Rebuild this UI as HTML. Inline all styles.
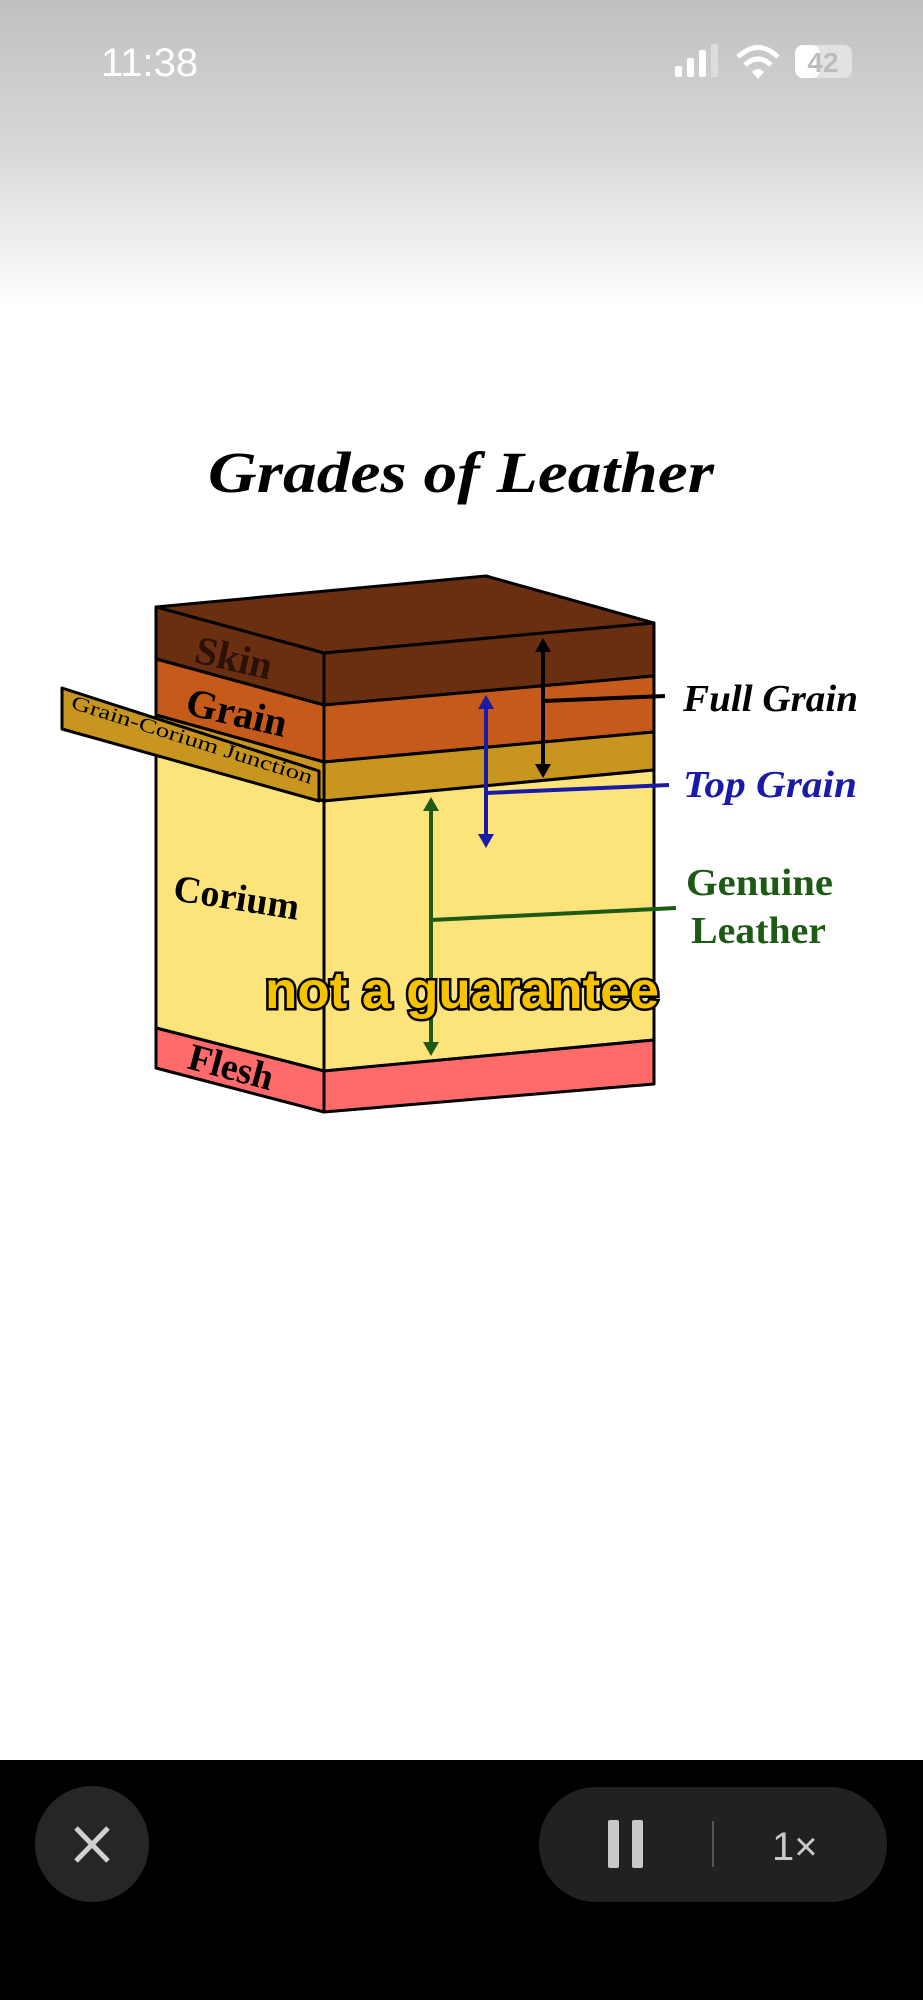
<!DOCTYPE html>
<html><head><meta charset="utf-8"><style>
html,body{margin:0;padding:0;width:923px;height:2000px;overflow:hidden;background:#fff}
</style></head><body>
<svg width="923" height="2000" viewBox="0 0 923 2000" xmlns="http://www.w3.org/2000/svg">
<defs><linearGradient id="g" x1="0" y1="0" x2="0" y2="1">
<stop offset="0" stop-color="#c0c0c0"/><stop offset="0.45" stop-color="#d6d6d6"/><stop offset="1" stop-color="#ffffff"/></linearGradient></defs>
<rect x="0" y="0" width="923" height="310" fill="url(#g)"/>
<text x="101" y="76" font-family="Liberation Sans, sans-serif" font-size="40" fill="#fff">11:38</text>
<rect x="675" y="66" width="7" height="11" rx="2" fill="#fff"/>
<rect x="687" y="58" width="7" height="19" rx="2" fill="#fff"/>
<rect x="699" y="50" width="7" height="27" rx="2" fill="#fff"/>
<rect x="711" y="44" width="7" height="33" rx="2" fill="#ddd"/>
<path d="M738 57 Q758 38 778 57" stroke="#fff" stroke-width="5" fill="none"/>
<path d="M745 65 Q758 53 771 65" stroke="#fff" stroke-width="5" fill="none"/>
<path d="M752 72 L758 79 L764 72 Q758 66 752 72Z" fill="#fff"/>
<rect x="795" y="45" width="57" height="33" rx="8" fill="#e2e2e2"/>
<rect x="795" y="45" width="25" height="33" rx="8" fill="#fff"/>
<text x="823" y="72" text-anchor="middle" font-family="Liberation Sans, sans-serif" font-size="28" font-weight="bold" fill="#bdbdbd">42</text>

<text x="208" y="492" textLength="506" lengthAdjust="spacingAndGlyphs" font-family="Liberation Serif, serif" font-size="58" font-weight="bold" font-style="italic" fill="#000">Grades of Leather</text>

<g stroke="#000" stroke-width="3" stroke-linejoin="round">
<polygon points="156,607 486,576 654,623 324,653" fill="#6a2e10"/>
<polygon points="156,607 324,653 324,705 156,659" fill="#6a2e10"/>
<polygon points="156,659 324,705 324,762 156,715" fill="#c55a1a"/>
<polygon points="156,715 324,762 324,801 156,752" fill="#c8951f"/>
<polygon points="156,752 324,801 324,1071 156,1028" fill="#fde47a"/>
<polygon points="156,1028 324,1071 324,1112 156,1068" fill="#ff6b6b"/>
<polygon points="324,653 654,623 654,676 324,705" fill="#6a2e10"/>
<polygon points="324,705 654,676 654,732 324,762" fill="#c55a1a"/>
<polygon points="324,762 654,732 654,770 324,801" fill="#c8951f"/>
<polygon points="324,801 654,770 654,1040 324,1071" fill="#fde47a"/>
<polygon points="324,1071 654,1040 654,1084 324,1112" fill="#ff6b6b"/>
<polygon points="62,688 319,771 319,801 62,729" fill="#c8951f"/>
</g>
<text transform="translate(70,708) rotate(17.5)" textLength="252" lengthAdjust="spacingAndGlyphs" font-family="Liberation Serif, serif" font-size="20" fill="#000">Grain-Corium Junction</text>
<text transform="translate(193,662) rotate(13)" font-family="Liberation Serif, serif" font-size="40" font-weight="bold" fill="#2a1005">Skin</text>
<text transform="translate(184,714) rotate(13)" font-family="Liberation Serif, serif" font-size="40" font-weight="bold" fill="#000">Grain</text>
<text transform="translate(172,900) rotate(9)" font-family="Liberation Serif, serif" font-size="38" font-weight="bold" fill="#000">Corium</text>
<text transform="translate(186,1068) rotate(15)" font-family="Liberation Serif, serif" font-size="38" font-weight="bold" fill="#000">Flesh</text>

<g stroke="#000" stroke-width="4">
<line x1="543" y1="650" x2="543" y2="766"/>
<line x1="543" y1="701" x2="665" y2="696"/>
</g>
<polygon points="535,652 551,652 543,638" fill="#000"/>
<polygon points="535,764 551,764 543,778" fill="#000"/>
<g stroke="#1a1aa8" stroke-width="4">
<line x1="486" y1="707" x2="486" y2="836"/>
<line x1="486" y1="793" x2="669" y2="785"/>
</g>
<polygon points="478,709 494,709 486,695" fill="#1a1aa8"/>
<polygon points="478,834 494,834 486,848" fill="#1a1aa8"/>
<g stroke="#1d5b14" stroke-width="4">
<line x1="431" y1="809" x2="431" y2="1044"/>
<line x1="431" y1="920" x2="676" y2="908"/>
</g>
<polygon points="423,811 439,811 431,797" fill="#1d5b14"/>
<polygon points="423,1042 439,1042 431,1056" fill="#1d5b14"/>

<text x="683" y="711" textLength="175" lengthAdjust="spacingAndGlyphs" font-family="Liberation Serif, serif" font-size="38" font-weight="bold" font-style="italic" fill="#000">Full Grain</text>
<text x="683" y="797" textLength="174" lengthAdjust="spacingAndGlyphs" font-family="Liberation Serif, serif" font-size="38" font-weight="bold" font-style="italic" fill="#1a1aa8">Top Grain</text>
<text x="686" y="895" textLength="147" lengthAdjust="spacingAndGlyphs" font-family="Liberation Serif, serif" font-size="38" font-weight="bold" fill="#1d5b14">Genuine</text>
<text x="691" y="943" textLength="135" lengthAdjust="spacingAndGlyphs" font-family="Liberation Serif, serif" font-size="38" font-weight="bold" fill="#1d5b14">Leather</text>

<text x="265" y="1008" textLength="394" lengthAdjust="spacingAndGlyphs" font-family="Liberation Sans, sans-serif" font-size="52" font-weight="bold" fill="#f7c300" stroke="#000" stroke-width="5" paint-order="stroke">not a guarantee</text>

<rect x="0" y="1760" width="923" height="240" fill="#000"/>
<ellipse cx="92" cy="1844" rx="57" ry="58" fill="#262626"/>
<path d="M76 1828 L108 1861 M108 1828 L76 1861" stroke="#d0d0d0" stroke-width="5"/>
<rect x="539" y="1787" width="348" height="115" rx="57" fill="#212121"/>
<rect x="608" y="1820" width="11" height="48" rx="2" fill="#c8c8c8"/>
<rect x="632" y="1820" width="11" height="48" rx="2" fill="#c8c8c8"/>
<line x1="713" y1="1821" x2="713" y2="1867" stroke="#555" stroke-width="2"/>
<text x="772" y="1860" font-family="Liberation Sans, sans-serif" font-size="40" fill="#c8c8c8">1×</text>
</svg>
</body></html>
